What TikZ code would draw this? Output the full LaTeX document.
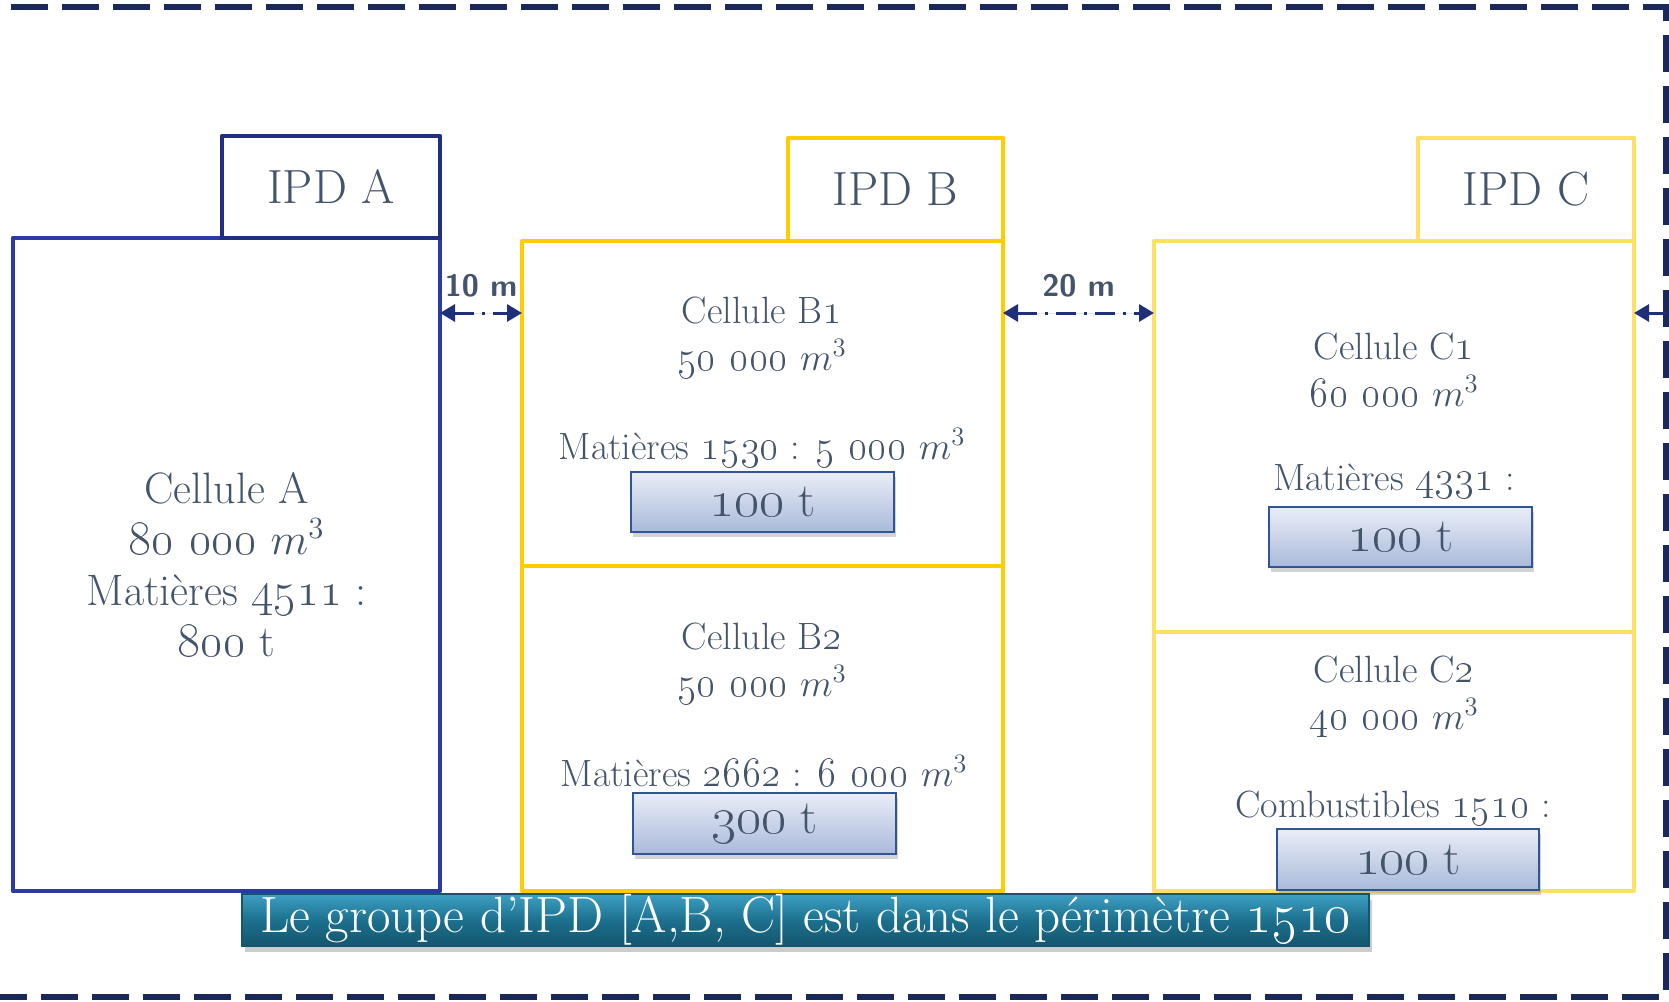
\RequirePackage{fix-cm}
\documentclass[tikz,border=0pt]{standalone}
\usepackage{amsmath}
\usepackage{tikz}
\usetikzlibrary{arrows.meta,fit,shadows}

\definecolor{txtgray}{RGB}{68,84,106}
\definecolor{ipdA}{RGB}{44,58,168}
\definecolor{ipdAtab}{RGB}{32,48,128}
\definecolor{ipdB}{RGB}{255,204,0}
\definecolor{ipdC}{RGB}{255,224,102}
\definecolor{framenavy}{RGB}{27,40,90}
\definecolor{arrownavy}{RGB}{31,47,122}
\definecolor{boxedge}{RGB}{47,85,151}
\definecolor{boxtop}{RGB}{233,237,247}
\definecolor{boxbot}{RGB}{170,186,218}
\definecolor{bantop}{RGB}{62,160,195}
\definecolor{banmid}{RGB}{28,112,142}
\definecolor{banbot}{RGB}{20,86,110}

\newcommand{\osn}[1]{\scalebox{1.1}{\oldstylenums{#1}}}

\begin{document}
\begin{tikzpicture}
	[x=0.5pt,y=-0.5pt,>={Triangle[length=7.5pt,width=8.5pt]},
		cellbox/.style={draw,line width=2.3pt,line join=round,inner sep=0pt,outer sep=0pt},
		ipdlbl/.style={text=txtgray,font=\fontsize{24}{28}\selectfont},
		celltxtA/.style={text=txtgray,align=center,font=\fontsize{22}{25.5}\selectfont},
		celltxt/.style={text=txtgray,align=center,font=\fontsize{19}{23.5}\selectfont},
		tonbox/.style={draw=boxedge,line width=1.2pt,inner sep=0pt,top color=boxtop,bottom color=boxbot,
			drop shadow={shadow xshift=1pt,shadow yshift=-2.5pt,opacity=0.35}},
		tontxt/.style={text=txtgray,font=\fontsize{24}{28}\selectfont},
		banner/.style={draw=banbot,line width=0.8pt,inner sep=0pt,top color=bantop,bottom color=banbot,middle color=banmid,
			drop shadow={shadow xshift=1.5pt,shadow yshift=-3pt,opacity=0.4}},
		bantxt/.style={text=white,font=\fontsize{25.5}{28}\selectfont},
		gap/.style={<->,draw=arrownavy,fill=arrownavy,line width=1.5pt,dash pattern=on 10pt off 4pt on 1.5pt off 4pt},
		gaplbl/.style={text=txtgray,inner sep=0pt,above=7pt,font=\sffamily\bfseries\fontsize{15.5}{18}\selectfont},
		rim/.style={draw=framenavy,line width=2.6pt,dash pattern=on 18.5pt off 7pt}]

	\useasboundingbox (0,0) rectangle (1669,1001);
	\clip (0,0) rectangle (1669,1001);

	\draw[rim] (-40,7) rectangle (1666,997);

	\node[cellbox, draw=ipdA, fit={(13,238) (440,891)}]     (A)  {};
	\node[cellbox, draw=ipdB, fit={(522,241) (1003,566)}]   (B1) {};
	\node[cellbox, draw=ipdB, fit={(522,566) (1003,891)}]   (B2) {};
	\node[cellbox, draw=ipdC, fit={(1154,241) (1634,632)}]  (C1) {};
	\node[cellbox, draw=ipdC, fit={(1154,632) (1634,891)}]  (C2) {};

	\node[cellbox, draw=ipdAtab, fit={(222,136) (440,238)}] (tabA) {};
	\node[cellbox, draw=ipdB, fit={(788,138) (1003,241)}]   (tabB) {};
	\node[cellbox, draw=ipdC, fit={(1418,138) (1634,241)}]  (tabC) {};
	\node[ipdlbl] (lblA) at (tabA) {IPD A};
	\node[ipdlbl] (lblB) at (tabB) {IPD B};
	\node[ipdlbl] (lblC) at (tabC) {IPD C};

	\node[celltxtA] (txtA)  at (A) {Cellule A\\\osn{80 000} $m^3$\\Matières \osn{4511} :\\\osn{800} t};
	\node[celltxt]  (txtB1) at (762,338)  {Cellule B\osn{1}\\\osn{50 000} $m^3$};
	\node[celltxt]  (matB1) at (762,448)  {Matières \osn{1530} : \osn{5 000} $m^3$};
	\node[celltxt]  (txtB2) at (762,664)  {Cellule B\osn{2}\\\osn{50 000} $m^3$};
	\node[celltxt]  (matB2) at (764,771)  {Matières \osn{2662} : \osn{6 000} $m^3$};
	\node[celltxt]  (txtC1) at (1394,370) {Cellule C\osn{1}\\\osn{60 000} $m^3$};
	\node[celltxt]  (matC1) at (1394,481) {Matières \osn{4331} :};
	\node[celltxt]  (txtC2) at (1394,697) {Cellule C\osn{2}\\\osn{40 000} $m^3$};
	\node[celltxt]  (matC2) at (1393,808) {Combustibles \osn{1510} :};

	\node[tonbox, fit={(631,472) (894,532)}]   (tonB1) {};
	\node[tonbox, fit={(633,793) (896,854)}]   (tonB2) {};
	\node[tonbox, fit={(1269,507) (1532,567)}] (tonC1) {};
	\node[tonbox, fit={(1277,829) (1539,890)}] (tonC2) {};
	\node[tontxt] (qB1) at (tonB1) {\osn{100} t};
	\node[tontxt] (qB2) at (tonB2) {\osn{300} t};
	\node[tontxt] (qC1) at (tonC1) {\osn{100} t};
	\node[tontxt] (qC2) at (tonC2) {\osn{100} t};

	\node[banner, fit={(242,894) (1369,946)}] (perim) {};
	\node[bantxt] (perimtxt) at (perim) {Le groupe d’IPD [A,B, C] est dans le périmètre \osn{1510}};

	\coordinate (gapy) at (0,313);
	\coordinate (edge) at (1666,313);

	\draw[gap] (A.east |- gapy) -- node[gaplbl] {10 m} (B1.west |- gapy);
	\draw[gap] (B1.east |- gapy) -- node[gaplbl] {20 m} (C1.west |- gapy);
	\draw[->,draw=arrownavy,fill=arrownavy,line width=1.5pt] (edge) -- (C1.east |- edge);

\end{tikzpicture}
\end{document}
